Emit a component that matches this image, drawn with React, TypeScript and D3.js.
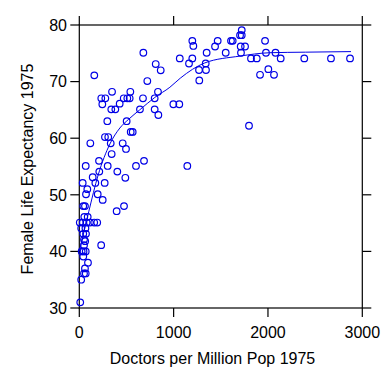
import React from "react";
import * as d3 from "d3";

const doctors = [
  679, 810, 863, 1065, 159, 721, 347, 541, 834, 233, 276, 244, 471, 509, 534, 675, 799, 428, 339, 382,
  643, 799, 838, 997, 1060, 297, 502, 545, 566, 272, 307, 117, 333, 460, 495, 343, 209, 686, 68, 301,
  601, 403, 212, 142, 488, 36, 170, 269, 71, 85, 195, 248, 42, 60, 474, 396, 53, 89, 5, 38,
  78, 113, 158, 190, 20, 65, 42, 71, 50, 62, 50, 232, 25, 45, 68, 42, 92, 60, 50, 68,
  20, 10, 1722, 1704, 1722, 1198, 1209, 1467, 1608, 1626, 1969, 1439, 1711, 1757, 1350, 1552, 1714, 1979, 2080, 1198,
  1820, 1881, 1163, 1340, 1269, 1343, 2004, 1916, 2064, 1272, 2135, 2385, 2668, 2870, 1799, 1145,
];
const lifeExp = [
  75.1, 73.1, 72.0, 74.1, 71.1, 70.1, 68.2, 68.2, 68.2, 67.05, 67.05, 66.0, 67.05, 67.05, 67.05, 67.05, 67.05, 66.1, 65.1, 65.1,
  65.1, 65.1, 64.1, 66.0, 66.0, 63.0, 63.0, 61.1, 61.1, 60.2, 60.2, 59.1, 59.1, 59.1, 58.1, 57.2, 56.0, 56.0, 55.1, 55.1,
  55.1, 54.1, 54.1, 53.1, 53.0, 52.1, 52.1, 52.1, 50.1, 51.0, 50.1, 49.1, 48.0, 48.0, 48.0, 47.1, 46.1, 46.1, 45.1, 45.1,
  45.1, 45.1, 45.1, 45.1, 44.1, 44.1, 43.1, 43.1, 42.1, 41.8, 41.1, 41.1, 40.0, 40.0, 40.0, 39.1, 38.0, 37.0, 36.1, 36.1,
  35.0, 31.0, 79.1, 78.2, 78.2, 77.2, 76.3, 77.2, 77.2, 77.2, 77.2, 76.2, 76.2, 76.2, 75.1, 75.1, 75.1, 75.1, 75.1, 74.1,
  74.1, 74.1, 73.2, 73.2, 72.05, 72.05, 72.2, 71.2, 71.2, 70.2, 74.1, 74.1, 74.1, 74.1, 62.2, 55.1,
];

const curveX = [0, 50, 100, 200, 325, 430, 520, 640, 800, 960, 1070, 1330, 1700, 2020, 2400, 2880];
const curveY = [40, 43.5, 47, 53.5, 59, 61.8, 63.3, 65, 67.2, 69, 70.6, 73.3, 74.5, 75.1, 75.2, 75.3];

const xTicks = [0, 1000, 2000, 3000];
const yTicks = [30, 40, 50, 60, 70, 80];

const xTitle = "Doctors per Million Pop 1975";
const yTitle = "Female Life Expectancy 1975";

export default function App() {
  const W = 384, H = 383;
  const x = d3.scaleLinear().domain([0, 3000]).range([79.3, 362.3]);
  const y = d3.scaleLinear().domain([30, 80]).range([308, 25]);
  const tick = 9;
  const blue = "#0000e6";
  const font = "'Liberation Sans', Arial, sans-serif";

  const pts = doctors.map((d, i) => ({ x: d, y: lifeExp[i] }));
  const curvePts = curveX.map((d, i) => [d, curveY[i]] as [number, number]);
  const line = d3
    .line<[number, number]>()
    .x((d) => x(d[0]))
    .y((d) => y(d[1]))
    .curve(d3.curveMonotoneX);

  const [x0, x1] = x.range();
  const [y0, y1] = [y(30), y(80)];

  return (
    <svg
      width={W}
      height={H}
      style={{ position: "absolute", left: 0, top: 0, background: "#fff" }}
      fontFamily={font}
    >
      <rect x={0} y={0} width={W} height={H} fill="#fff" />
      {/* frame */}
      <rect x={x0} y={y1} width={x1 - x0} height={y0 - y1} fill="none" stroke="#000" strokeWidth={1.2} />
      {/* x ticks bottom & top */}
      {xTicks.map((t) => (
        <g key={"xt" + t}>
          <line x1={x(t)} x2={x(t)} y1={y0} y2={y0 + tick} stroke="#000" strokeWidth={1.2} />
          <line x1={x(t)} x2={x(t)} y1={y1} y2={y1 - tick} stroke="#000" strokeWidth={1.2} />
          <text x={x(t)} y={338} textAnchor="middle" fontSize={16} fill="#000">
            {t}
          </text>
        </g>
      ))}
      {/* y ticks left & right */}
      {yTicks.map((t) => (
        <g key={"yt" + t}>
          <line x1={x0} x2={x0 - tick} y1={y(t)} y2={y(t)} stroke="#000" strokeWidth={1.2} />
          <line x1={x1} x2={x1 + tick} y1={y(t)} y2={y(t)} stroke="#000" strokeWidth={1.2} />
          <text x={67} y={y(t) + 5.7} textAnchor="end" fontSize={16} fill="#000">
            {t}
          </text>
        </g>
      ))}
      <text x={212.5} y={364} textAnchor="middle" fontSize={16} fill="#000">
        {xTitle}
      </text>
      <text
        transform={`translate(33,169) rotate(-90)`}
        textAnchor="middle"
        fontSize={16}
        fill="#000"
      >
        {yTitle}
      </text>
      <path d={line(curvePts) || ""} fill="none" stroke={blue} strokeWidth={1} />
      {pts.map((p, i) => (
        <circle key={i} cx={x(p.x)} cy={y(p.y)} r={3.3} fill="none" stroke={blue} strokeWidth={1.2} />
      ))}
    </svg>
  );
}
